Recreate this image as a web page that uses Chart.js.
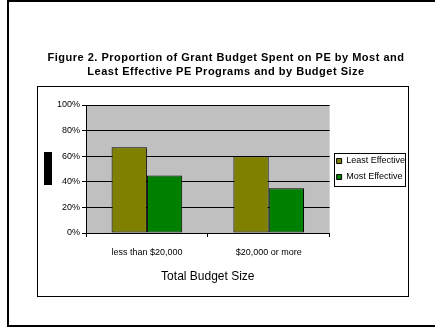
<!DOCTYPE html>
<html>
<head>
<meta charset="utf-8">
<title>Figure 2</title>
<script src="https://cdn.jsdelivr.net/npm/chart.js@4/dist/chart.umd.min.js"></script>
<style>
  html, body { margin: 0; padding: 0; background: #fff; }
  canvas { display: block; }
</style>
</head>
<body>
<canvas id="budgetChart" width="435" height="329"></canvas>
<script>
const categories = ["less than $20,000", "$20,000 or more"];
const seriesNames = ["Least Effective", "Most Effective"];
const leastEffective = [67, 60];
const mostEffective = [45, 35];
const yTicks = [0, 20, 40, 60, 80, 100];

const FONT = "'Liberation Sans', Arial, sans-serif";

// page frame, chart box, grey plot area and the legend border
const framePlugin = {
    id: "frame",
    afterInit(chart) {
        // the heading is set a little wider than the font's default spacing
        const tb = chart.titleBlock;
        const drawTitle = tb.draw.bind(tb);
        tb.draw = function () {
            chart.ctx.save();
            chart.ctx.letterSpacing = "0.5px";
            drawTitle();
            chart.ctx.restore();
        };
    },
    beforeDraw(chart) {
        const ctx = chart.ctx;
        const a = chart.chartArea;
        ctx.save();
        ctx.fillStyle = "#c0c0c0";
        ctx.fillRect(a.left, a.top, a.right - a.left, a.bottom - a.top);

        ctx.fillStyle = "#000";
        ctx.fillRect(7, 0, 428, 2);
        ctx.fillRect(7, 0, 2, 327);
        ctx.fillRect(7, 325, 428, 2);

        ctx.strokeStyle = "#000";
        ctx.lineWidth = 1;
        ctx.strokeRect(37.5, 86.5, 371, 210);

        // y axis title block
        ctx.fillRect(44, 152, 8, 33);
        ctx.restore();
    },
    afterDraw(chart) {
        const hb = chart.legend.legendHitBoxes;
        if (!hb || !hb.length) return;
        const left = Math.min(...hb.map(b => b.left)) - 3;
        const right = Math.max(...hb.map(b => b.left + b.width));
        const top = Math.min(...hb.map(b => b.top)) - 4;
        const bottom = Math.max(...hb.map(b => b.top + b.height)) + 4;
        const ctx = chart.ctx;
        ctx.save();
        ctx.strokeStyle = "#000";
        ctx.lineWidth = 1;
        ctx.strokeRect(Math.round(left) + 0.5, Math.round(top) + 0.5,
            Math.round(right - left), Math.round(bottom - top));
        ctx.restore();
    }
};

const ctx = document.getElementById("budgetChart");

new Chart(ctx, {
    type: "bar",
    data: {
        labels: categories,
        datasets: [{
            label: seriesNames[0],
            data: leastEffective,
            backgroundColor: "#808000",
            borderColor: "#000",
            borderWidth: 1,
            borderSkipped: false
        }, {
            label: seriesNames[1],
            data: mostEffective,
            backgroundColor: "#008000",
            borderColor: "#000",
            borderWidth: 1,
            borderSkipped: false
        }]
    },
    options: {
        responsive: false,
        animation: false,
        devicePixelRatio: 1,
        layout: { padding: { left: 37, right: 20, top: 0, bottom: 0 } },
        datasets: {
            bar: { barPercentage: 1, categoryPercentage: 0.58 }
        },
        plugins: {
            title: {
                display: true,
                text: [
                    "Figure 2. Proportion of Grant Budget Spent on PE by Most and",
                    "Least Effective PE Programs and by Budget Size"
                ],
                color: "#000",
                font: { family: FONT, size: 11, weight: "bold", lineHeight: 14 / 11 },
                padding: { top: 51, bottom: 26 }
            },
            legend: {
                position: "right",
                fullSize: false,
                labels: {
                    color: "#000",
                    font: { family: FONT, size: 9 },
                    boxWidth: 5,
                    boxHeight: 5,
                    padding: 7
                }
            },
            tooltip: { enabled: false }
        },
        scales: {
            x: {
                afterFit: scale => { scale.height = 96; },
                grid: {
                    offset: true,
                    drawOnChartArea: false,
                    color: "#000",
                    tickLength: 4
                },
                border: { color: "#000" },
                ticks: {
                    color: "#000",
                    font: { family: FONT, size: 9 },
                    padding: 10
                },
                title: {
                    display: true,
                    text: "Total Budget Size",
                    color: "#000",
                    font: { family: FONT, size: 12, lineHeight: 1.2 },
                    padding: { top: 0, bottom: 45 }
                }
            },
            y: {
                min: 0,
                max: 100,
                afterFit: scale => { scale.width = 49; },
                afterBuildTicks: scale => {
                    scale.ticks = yTicks.map(v => ({ value: v }));
                },
                grid: { color: "#000", tickLength: 4 },
                border: { color: "#000" },
                ticks: {
                    color: "#000",
                    font: { family: FONT, size: 9 },
                    padding: 2,
                    callback: v => v + "%"
                }
            }
        }
    },
    plugins: [framePlugin]
});
</script>
</body>
</html>
